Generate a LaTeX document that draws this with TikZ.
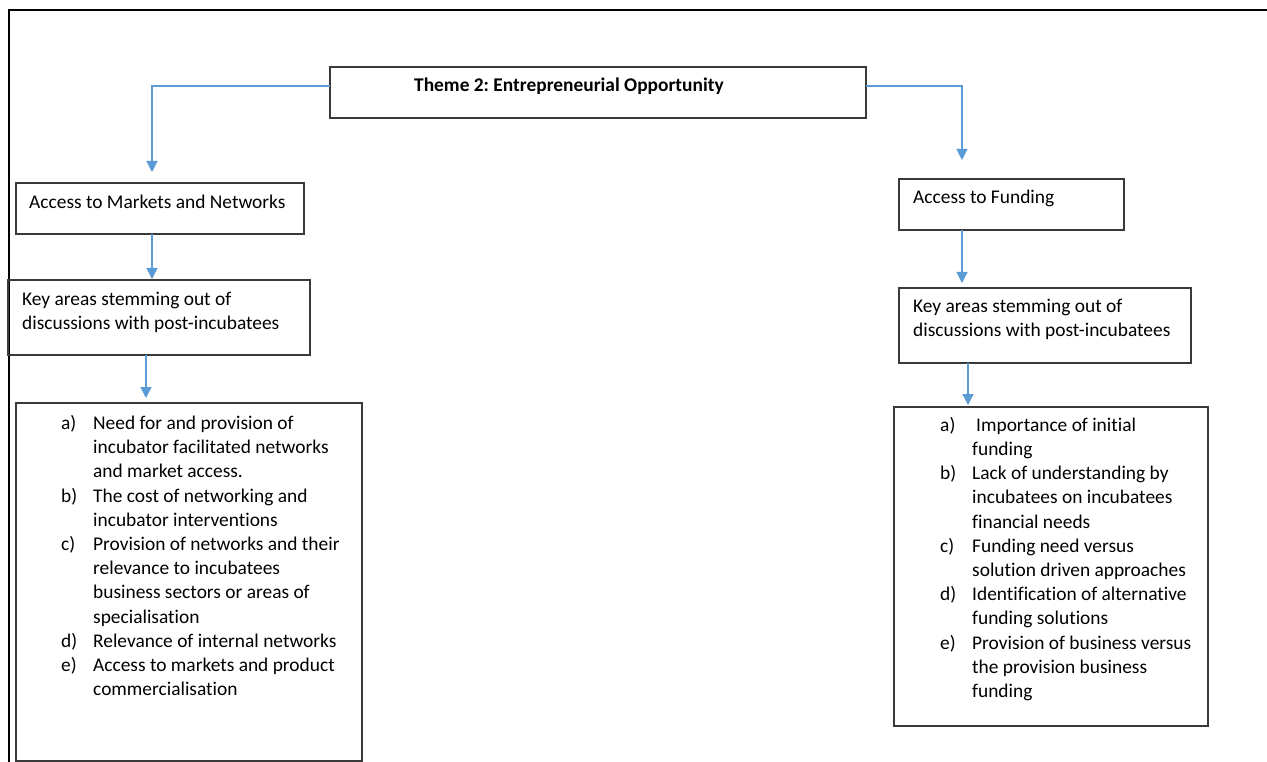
\documentclass[tikz,border=0pt]{standalone}
\usepackage{fontspec}
\setmainfont{Carlito}[Ligatures=NoCommon]
\frenchspacing
\usetikzlibrary{arrows.meta}
\definecolor{flowblue}{HTML}{5B9BD5}
\definecolor{boxline}{HTML}{3A3A3A}
\tikzset{
  frame/.style={draw=boxline, line width=1.3pt, rectangle},
  flow/.style={draw=flowblue, line width=1.2pt, -{Triangle[width=11pt,length=11pt]}},
  txt/.style={inner sep=0pt, anchor=west, font=\fontsize{19.4}{24.2}\selectfont, align=left},
}
\newcommand\lab[1]{\makebox[32pt][l]{#1}}
\newcommand\ind{\hspace*{32pt}}
\begin{document}
\begin{tikzpicture}[x=1pt,y=-1pt]
\useasboundingbox (0,0) rectangle (1267,762);
% outer frame lines
\draw[line width=2.5pt, black] (9,763) -- (9,10) -- (1268,10);

% boxes
\draw[frame] (330,67) rectangle (866,118);
\node[inner sep=0pt] (title) at (598,92.5) [minimum width=536pt, minimum height=51pt] {};
\node[txt, font=\fontsize{19.4}{24.2}\selectfont\bfseries] (titletxt) at (414,86) {Theme 2: Entrepreneurial Opportunity};

\draw[frame] (16,183) rectangle (304,234);
\node[inner sep=0pt, minimum width=288pt, minimum height=51pt] (mkt) at (160,208.5) {};
\node[txt] (mkttxt) at (29,202) {Access to Markets and Networks};

\draw[frame] (899,179) rectangle (1124,230);
\node[inner sep=0pt, minimum width=225pt, minimum height=51pt] (fund) at (1011.5,204.5) {};
\node[txt] (fundtxt) at (913,198) {Access to Funding};

\draw[frame] (8,280) rectangle (310,355);
\node[inner sep=0pt, minimum width=302pt, minimum height=75pt] (keyL) at (159,317.5) {};
\node[txt] (keyLtxt) at (22,312) {Key areas stemming out of\\discussions with post-incubatees};

\draw[frame] (899,288) rectangle (1191,363);
\node[inner sep=0pt, minimum width=292pt, minimum height=75pt] (keyR) at (1045,325.5) {};
\node[txt] (keyRtxt) at (913,319) {Key areas stemming out of\\discussions with post-incubatees};

\draw[frame] (16,403) rectangle (362,761);
\node[inner sep=0pt, minimum width=346pt, minimum height=358pt] (listL) at (189,582) {};
\node[txt] (listLtxt) at (61,555.5) {%
\lab{a)}Need for and provision of\\
\ind incubator facilitated networks\\
\ind and market access.\\
\lab{b)}The cost of networking and\\
\ind incubator interventions\\
\lab{c)}Provision of networks and their\\
\ind relevance to incubatees\\
\ind business sectors or areas of\\
\ind specialisation\\
\lab{d)}Relevance of internal networks\\
\lab{e)}Access to markets and product\\
\ind commercialisation};

\draw[frame] (894,407) rectangle (1208,726);
\node[inner sep=0pt, minimum width=314pt, minimum height=319pt] (listR) at (1051,566.5) {};
\node[txt] (listRtxt) at (940,559) {%
\lab{a)}\hspace{4pt}Importance of initial\\
\ind funding\\
\lab{b)}Lack of understanding by\\
\ind incubatees on incubatees\\
\ind financial needs\\
\lab{c)}Funding need versus\\
\ind solution driven approaches\\
\lab{d)}Identification of alternative\\
\ind funding solutions\\
\lab{e)}Provision of business versus\\
\ind the provision business\\
\ind funding};

% arrow tips
\coordinate (tipMkt) at (152,172);
\coordinate (tipFund) at (962,160);
\coordinate (tipKeyL) at (152,279);
\coordinate (tipKeyR) at (962,283);
\coordinate (tipListL) at (146,398);
\coordinate (tipListR) at (968,405);

% connectors
\draw[flow] (title.west |- 0,86) -| (tipMkt);
\draw[flow] (title.east |- 0,86) -| (tipFund);
\draw[flow] (tipKeyL |- mkt.south) -- (tipKeyL);
\draw[flow] (tipKeyR |- fund.south) -- (tipKeyR);
\draw[flow] (tipListL |- keyL.south) -- (tipListL);
\draw[flow] (tipListR |- keyR.south) -- (tipListR);
\end{tikzpicture}
\end{document}
